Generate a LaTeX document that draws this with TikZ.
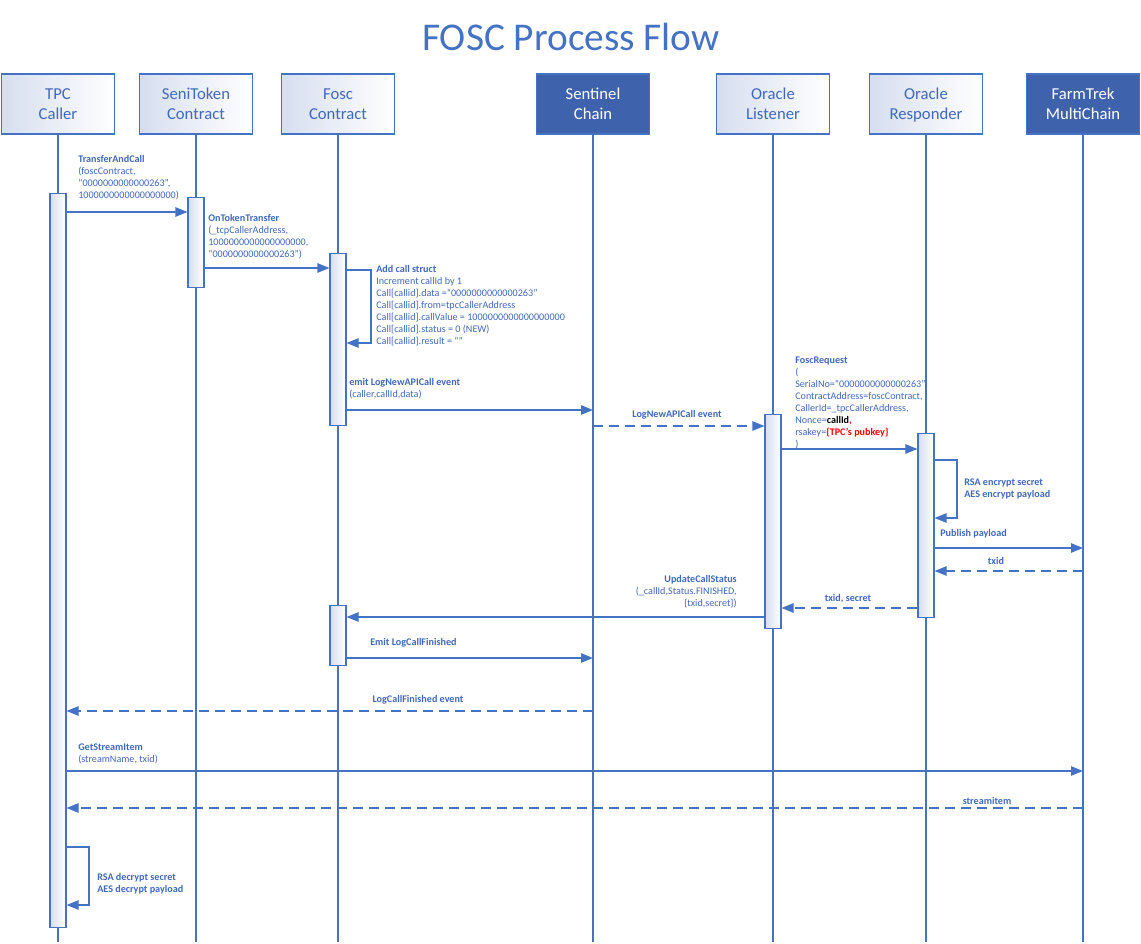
\documentclass[tikz,border=0pt]{standalone}
\usepackage{fontspec}
\setmainfont{Carlito}
\usepackage{tikz}
\usetikzlibrary{arrows.meta}

\definecolor{lineblue}{HTML}{4472C4}
\definecolor{textblue}{HTML}{4068BD}
\definecolor{darkhdr}{HTML}{3F62AD}
\definecolor{gradblue}{HTML}{D6DEEF}

\tikzset{
    hdr/.style={draw=lineblue, line width=0.8pt, left color=gradblue, right color=white,
        minimum width=84.75pt, minimum height=45pt, align=center, text=textblue,
        font=\fontsize{12.5}{15}\selectfont},
    hdrdark/.style={hdr, fill=darkhdr, left color=darkhdr, right color=darkhdr, text=white},
    life/.style={draw=lineblue, line width=0.9pt},
    act/.style={draw=lineblue, line width=0.8pt, left color=gradblue, right color=white,
        minimum width=12pt, inner sep=0pt, anchor=north},
    msg/.style={draw=lineblue, line width=1.1pt, -{Triangle[length=9pt,width=7pt]}},
    reply/.style={msg, dash pattern=on 7.5pt off 4.5pt},
    lbl/.style={text=textblue, align=left, inner sep=0pt, anchor=north west,
        font=\fontsize{7.6}{9}\selectfont},
}

\begin{document}
\begin{tikzpicture}[x=0.75pt, y=-0.75pt]
    \useasboundingbox (0,0) rectangle (1141,944);

    % Title
    \node[text=lineblue, font=\fontsize{29.5}{32}\selectfont] (title) at (571,37) {FOSC Process Flow};

    % Headers and lifelines
    \foreach \n/\x/\s/\t in {tpc/58/hdr/{TPC\\Caller}, seni/196/hdr/{SeniToken\\Contract},
        fosc/338/hdr/{Fosc\\Contract}, sent/593/hdrdark/{Sentinel\\Chain},
        lis/773/hdr/{Oracle\\Listener}, res/926/hdr/{Oracle\\\smash{Responder}},
        farm/1083/hdrdark/{FarmTrek\\MultiChain}}{
        \node[\s] (\n) at (\x,104) {\t};
        \draw[life] (\n.south) -- (\n.south |- 0,942);
    }

    % Activation boxes
    \node[act, minimum height=550.5pt] (tpcA) at (tpc |- 0,193) {};
    \node[act, minimum height=67.5pt] (seniA) at (seni |- 0,197) {};
    \node[act, minimum height=129pt] (foscA) at (fosc |- 0,253) {};
    \node[act, minimum height=45pt] (foscB) at (fosc |- 0,605) {};
    \node[act, minimum height=160.5pt] (lisA) at (lis |- 0,414) {};
    \node[act, minimum height=138pt] (resA) at (res |- 0,433) {};

    % TransferAndCall
    \draw[msg] (tpcA.east |- 0,212) -- (seniA.west |- 0,212);
    \node[lbl] (l1) at (78,155) {\textbf{TransferAndCall}\\(foscContract,\\“0000000000000263”,\\1000000000000000000)};

    % OnTokenTransfer
    \draw[msg] (seniA.east |- 0,268) -- (foscA.west |- 0,268);
    \node[lbl] (l2) at (208,214) {\textbf{OnTokenTransfer}\\(\_tcpCallerAddress,\\1000000000000000000,\\“0000000000000263”)};

    % Add call struct (self)
    \draw[msg] (foscA.east |- 0,270) -- (371,270) -- (371,343) -- (foscA.east |- 0,343);
    \node[lbl] (l3) at (376,265) {\textbf{Add call struct}\\Increment callId by 1\\Call[callid].data =“0000000000000263”\\Call[callid].from=tpcCallerAddress\\Call[callid].callValue = 1000000000000000000\\Call[callid].status = 0 (NEW)\\Call[callid].result = “”};

    % emit LogNewAPICall event
    \draw[msg] (foscA.east |- 0,410) -- (sent.south |- 0,410);
    \node[lbl] (l4) at (349,378) {\textbf{emit LogNewAPICall event}\\(caller,callId,data)};

    % LogNewAPICall event
    \draw[reply] (sent.south |- 0,426) -- (lisA.west |- 0,426);
    \node[lbl, anchor=center] (l5) at (677,415) {\textbf{LogNewAPICall event}};

    % FoscRequest
    \draw[msg] (lisA.east |- 0,449) -- (resA.west |- 0,449);
    \node[lbl] (l6) at (795,357) {\textbf{FoscRequest}\\(\\SerialNo=“0000000000000263”,\\ContractAddress=foscContract,\\CallerId=\_tpcCallerAddress,\\Nonce={\color{black}\bfseries callId}{\color{red}\bfseries ,}\\rsakey={\color{red}\bfseries \{TPC’s pubkey\}}\\)};

    % encrypt (self)
    \draw[msg] (resA.east |- 0,460) -- (957,460) -- (957,518) -- (resA.east |- 0,518);
    \node[lbl] (l7) at (964,479) {\textbf{RSA encrypt secret}\\\textbf{AES encrypt payload}};

    % Publish payload
    \draw[msg] (resA.east |- 0,548) -- (farm.south |- 0,548);
    \node[lbl] (l8) at (940,529) {\textbf{Publish payload}};

    % txid
    \draw[reply] (farm.south |- 0,571) -- (resA.east |- 0,571);
    \node[lbl, anchor=center] (l9) at (996,561) {\textbf{txid}};

    % txid, secret
    \draw[reply] (resA.west |- 0,608) -- (lisA.east |- 0,608);
    \node[lbl, anchor=center] (l10) at (848,599) {\textbf{txid, secret}};

    % UpdateCallStatus
    \draw[msg] (lisA.west |- 0,617) -- (foscB.east |- 0,617);
    \node[lbl, anchor=north east, align=right] (l11) at (737,575) {\textbf{UpdateCallStatus}\\(\_callId,Status.FINISHED,\\\{txid,secret\})};

    % Emit LogCallFinished
    \draw[msg] (foscB.east |- 0,658) -- (sent.south |- 0,658);
    \node[lbl] (l12) at (370,638) {\textbf{Emit LogCallFinished}};

    % LogCallFinished event
    \draw[reply] (sent.south |- 0,711) -- (tpcA.east |- 0,711);
    \node[lbl, anchor=center] (l13) at (418,700) {\textbf{LogCallFinished event}};

    % GetStreamItem
    \draw[msg] (tpcA.east |- 0,771) -- (farm.south |- 0,771);
    \node[lbl] (l14) at (78,744) {\textbf{GetStreamItem}\\(streamName, txid)};

    % streamitem
    \draw[reply] (farm.south |- 0,808) -- (tpcA.east |- 0,808);
    \node[lbl, anchor=center] (l15) at (987,801) {\textbf{streamitem}};

    % decrypt (self)
    \draw[msg] (tpcA.east |- 0,847) -- (89,847) -- (89,905) -- (tpcA.east |- 0,905);
    \node[lbl] (l16) at (97,873) {\textbf{RSA decrypt secret}\\\textbf{AES decrypt payload}};

\end{tikzpicture}
\end{document}
